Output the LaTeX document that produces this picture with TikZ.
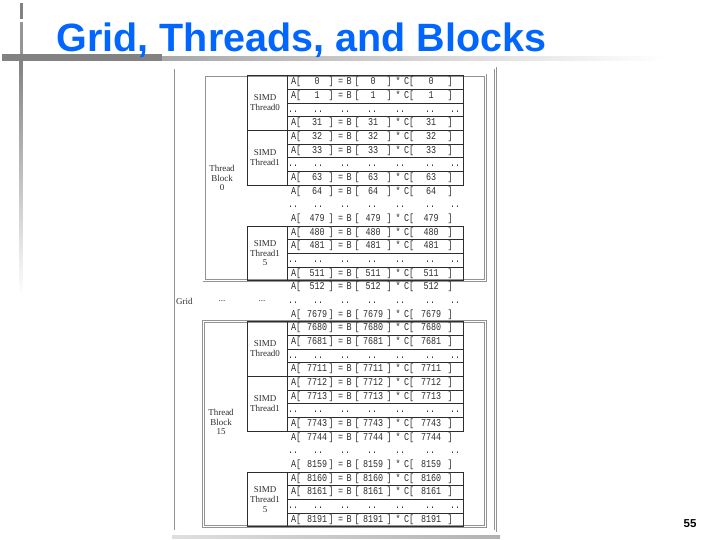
\documentclass[tikz,border=0pt]{standalone}
\usepackage{fontspec}
\setmainfont{Liberation Serif}
\newfontfamily\sansbold{Liberation Sans}
\newfontfamily\codefont[FakeStretch=0.8]{Liberation Mono}
\usetikzlibrary{positioning}
\definecolor{titleblue}{RGB}{0,102,255}
\definecolor{bargray}{RGB}{130,130,130}
\definecolor{inkgray}{RGB}{45,45,45}
% row centres and row tops (px)
\newcommand{\rowy}[1]{82.3+13.67*(#1)}
\newcommand{\rowtop}[1]{75.5+13.67*(#1)}
\newcommand{\putat}[2]{\rlap{\hspace*{#1}\makebox[0pt]{#2}}}
% one line of the table
\newcommand{\arow}[2]{%
  \node[code] (r#2) at (287,{\rowy{#1}})
  {\putat{9pt}{A[}\putat{30pt}{#2}\putat{44pt}{]}\putat{53.5pt}{=}%
   \putat{62pt}{B}\putat{70pt}{[}\putat{86pt}{#2}\putat{102pt}{]}%
   \putat{111pt}{*}\putat{122pt}{C[}\putat{144pt}{#2}%
   \putat{163pt}{]}\hspace*{176pt}};}
\newcommand{\drow}[1]{%
  \node[code] (d#1) at (287,{\rowy{#1}})
  {\putat{6pt}{..}\putat{31pt}{..}\putat{58pt}{..}\putat{85pt}{..}%
   \putat{113pt}{..}\putat{143pt}{..}\putat{168pt}{..}\hspace*{176pt}};}
% one SIMD thread: 4 lines of the table
\newcommand{\simdbox}[1]{%
  \draw[tline] (247,{\rowtop{#1}}) rectangle (463,{\rowtop{#1+4}});
  \draw[tline] (287,{\rowtop{#1}}) -- (287,{\rowtop{#1+4}});
  \draw[tline] (287,{\rowtop{#1+1}}) -- (463,{\rowtop{#1+1}})
  (287,{\rowtop{#1+2}}) -- (463,{\rowtop{#1+2}})
  (287,{\rowtop{#1+3}}) -- (463,{\rowtop{#1+3}});}

\begin{document}
\begin{tikzpicture}[x=1pt, y=-1pt,
  code/.style={font=\codefont\fontsize{10.5}{11}\selectfont, text=inkgray,
    inner sep=0pt, anchor=west, text height=7pt, text depth=2pt},
  lab/.style={font=\fontsize{9}{9.8}\selectfont, text=inkgray, align=center, inner sep=0pt},
  tline/.style={draw=inkgray, line width=0.6pt},
  frame/.style={draw=gray!85, line width=0.5pt, double=white, double distance=1.6pt}]
  \useasboundingbox (0,0) rectangle (720,540);

  % slide decoration
  \fill[bargray] (19.5,3) rectangle (22.5,19);
  \fill[bargray!85] (19.5,22) rectangle (22.5,54);
  \shade[top color=bargray, bottom color=white] (19.5,61) rectangle (22.5,295);
  \fill[bargray] (2,54) rectangle (162,61);
  \shade[left color=bargray!70, right color=white] (162,57) rectangle (665,61);

  \node[font=\sansbold\bfseries\fontsize{39.5}{40}\selectfont, text=titleblue,
    anchor=base west, inner sep=0pt] (title) at (56.5,52) {Grid, Threads, and Blocks};

  % the grid
  \draw[frame] (173.2,68.2) rectangle (495.5,531);
  \shade[left color=gray!25, right color=gray!60] (172,535.5) rectangle (500,538);

  % thread block 0
  \draw[frame] (204.2,75.3) rectangle (485.3,280.5);
  \simdbox{0}
  \simdbox{4}
  \simdbox{11}
  \node[lab] (blk0) at (222,178) {Thread\\Block\\0};
  \node[lab] (b0t0) at (265,{\rowtop{2}}) {SIMD\\Thread0};
  \node[lab] (b0t1) at (265,{\rowtop{6}}) {SIMD\\Thread1};
  \node[lab] (b0t15) at (265,{\rowtop{13}}) {SIMD\\Thread1\\5};

  % thread block 15
  \draw[frame] (203.5,321.5) rectangle (485.3,526.6);
  \simdbox{18}
  \simdbox{22}
  \simdbox{29}
  \node[lab] (blk15) at (221,422) {Thread\\Block\\15};
  \node[lab] (b15t0) at (265,{\rowtop{20}}) {SIMD\\Thread0};
  \node[lab] (b15t1) at (265,{\rowtop{24}}) {SIMD\\Thread1};
  \node[lab] (b15t15) at (265,{\rowtop{31}}) {SIMD\\Thread1\\5};

  \node[lab, anchor=west] (grid) at (176,{\rowy{16}}) {Grid};
  \node[lab] (gdots1) at (222,{\rowy{16}}) {...};
  \node[lab] (gdots2) at (262,{\rowy{16}}) {...};

  % the lines A[i] = B[i] * C[i]
  \arow{0}{0}
  \arow{1}{1}
  \drow{2}
  \arow{3}{31}
  \arow{4}{32}
  \arow{5}{33}
  \drow{6}
  \arow{7}{63}
  \arow{8}{64}
  \drow{9}
  \arow{10}{479}
  \arow{11}{480}
  \arow{12}{481}
  \drow{13}
  \arow{14}{511}
  \arow{15}{512}
  \drow{16}
  \arow{17}{7679}
  \arow{18}{7680}
  \arow{19}{7681}
  \drow{20}
  \arow{21}{7711}
  \arow{22}{7712}
  \arow{23}{7713}
  \drow{24}
  \arow{25}{7743}
  \arow{26}{7744}
  \drow{27}
  \arow{28}{8159}
  \arow{29}{8160}
  \arow{30}{8161}
  \drow{31}
  \arow{32}{8191}

  \node[font=\sansbold\bfseries\fontsize{11.5}{12}\selectfont, inner sep=0pt] (page) at (690,523.5) {55};
\end{tikzpicture}
\end{document}
